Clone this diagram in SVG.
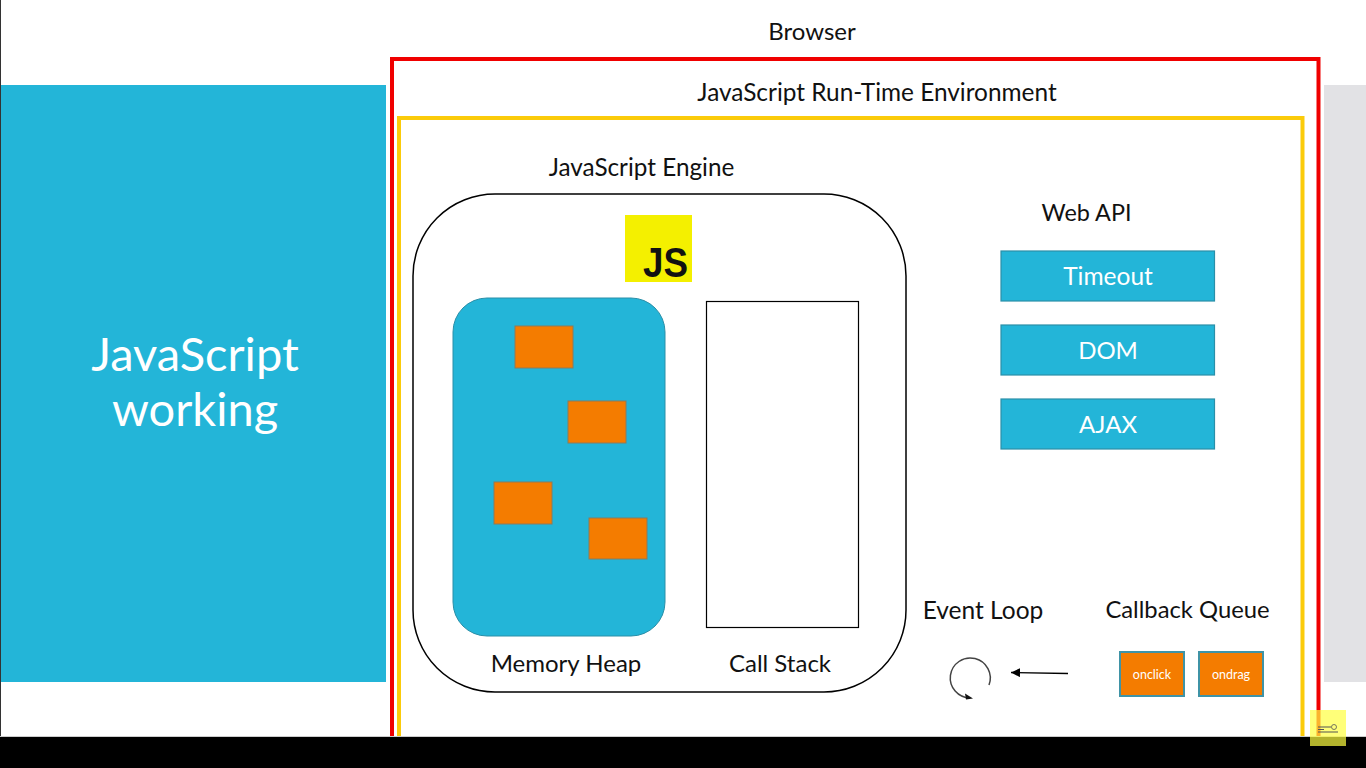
<svg xmlns="http://www.w3.org/2000/svg" width="1366" height="768" viewBox="0 0 1366 768">
<style>
text{font-family:"Lato","Open Sans","Liberation Sans",sans-serif;fill:#111}
.lbl{font-size:24px;text-anchor:middle}
.api rect{fill:#23b5d8;stroke:#2a8fa8;stroke-width:1.2}
.api text{font-size:24px;fill:#fff;text-anchor:middle}
.obj{fill:#f47c00;stroke:#8c7a5a;stroke-width:1}
.cb rect{fill:#f47c00;stroke:#3f93a6;stroke-width:2}
.cb text{font-size:12.5px;fill:#fff;text-anchor:middle}
</style>
<defs>
<marker id="ah" markerWidth="10" markerHeight="10" refX="9" refY="4.500" orient="auto" markerUnits="userSpaceOnUse"><path d="M0 0L9 4.500L0 9Z" fill="#000"/></marker>
</defs>
<rect width="1366" height="768" fill="#fff"/>
<rect x="0" y="0" width="1" height="737" fill="#333"/>
<g id="title-panel"><rect x="1" y="85" width="385" height="597" fill="#23b5d8"/>
<text x="195" y="370.500" font-size="47" text-anchor="middle" style="fill:#fff">JavaScript</text>
<text x="195" y="425.500" font-size="47" text-anchor="middle" style="fill:#fff">working</text></g>
<rect id="side-panel" x="1324" y="85" width="42" height="597" fill="#e2e2e5"/>
<g id="browser"><path d="M392 737V59H1318.500V737" fill="none" stroke="#f00000" stroke-width="4"/>
<text class="lbl" x="812" y="40">Browser</text></g>
<g id="runtime"><path d="M399 737V118H1302.500V737" fill="none" stroke="#fbcb0a" stroke-width="4"/>
<text class="lbl" x="877" y="100.500" style="font-size:24.400px">JavaScript Run-Time Environment</text></g>
<g id="engine"><rect x="413" y="194" width="493" height="498" rx="82" fill="#fff" stroke="#000" stroke-width="1.500"/>
<text class="lbl" x="641.500" y="175.500" style="font-size:24.300px">JavaScript Engine</text></g>
<g id="js-logo"><rect x="625" y="215" width="67" height="67" fill="#f4f000"/>
<text x="643" y="276.500" font-size="43" font-weight="700" textLength="45" lengthAdjust="spacingAndGlyphs" style="font-family:'Liberation Sans',Arial,sans-serif;fill:#111">JS</text></g>
<g id="memory-heap"><rect x="453" y="298" width="212" height="338" rx="34" fill="#23b5d8" stroke="#2a8fa8"/>
<rect class="obj" x="515" y="326" width="58" height="42"/>
<rect class="obj" x="568" y="401" width="58" height="42"/>
<rect class="obj" x="494" y="482" width="58" height="42"/>
<rect class="obj" x="589" y="518" width="58" height="41"/>
<text class="lbl" x="566" y="672">Memory Heap</text></g>
<g id="call-stack"><rect x="706.500" y="301.500" width="152" height="326" fill="#fff" stroke="#000" stroke-width="1.200"/>
<text class="lbl" x="780" y="672">Call Stack</text></g>
<text id="web-api-label" class="lbl" x="1086.500" y="221" style="font-size:23.400px">Web API</text>
<g id="timeout" class="api"><rect x="1001" y="251" width="213.500" height="50"/><text x="1108" y="285" style="font-size:24.500px">Timeout</text></g>
<g id="dom" class="api"><rect x="1001" y="325" width="213.500" height="50"/><text x="1108" y="359">DOM</text></g>
<g id="ajax" class="api"><rect x="1001" y="399" width="213.500" height="50"/><text x="1108" y="433">AJAX</text></g>
<g id="event-loop"><text class="lbl" x="983" y="618.500" style="font-size:24.500px">Event Loop</text>
<path d="M989 685A20 20 0 1 0 970 698" fill="none" stroke="#444" stroke-width="1.500"/>
<path d="M965 693.500L973 698.500L966 699.500Z" fill="#111"/></g>
<g id="callback-queue"><text class="lbl" x="1187.500" y="618" style="font-size:23.800px">Callback Queue</text></g>
<g id="onclick" class="cb"><rect x="1120" y="652" width="64" height="44"/><text x="1152" y="679">onclick</text></g>
<g id="ondrag" class="cb"><rect x="1199" y="652" width="64" height="44"/><text x="1231" y="679">ondrag</text></g>
<g id="connectors"><line x1="1068" y1="673.500" x2="1011" y2="672.500" stroke="#000" stroke-width="1.300" marker-end="url(#ah)"/></g>
<rect id="footer-bar" x="0" y="737" width="1366" height="31" fill="#000"/>
<line x1="0" y1="736.500" x2="1366" y2="736.500" stroke="#ccc" stroke-width="1"/>
<g id="badge"><rect x="1310" y="710" width="36" height="36" fill="#ffff40" fill-opacity="0.7"/>
<path d="M1318 727H1331M1318 732H1338M1318 729.500H1324" stroke="#555" stroke-width="1.200" fill="none"/><circle cx="1334" cy="727" r="2.500" fill="none" stroke="#555" stroke-width="0.800"/></g>
</svg>
